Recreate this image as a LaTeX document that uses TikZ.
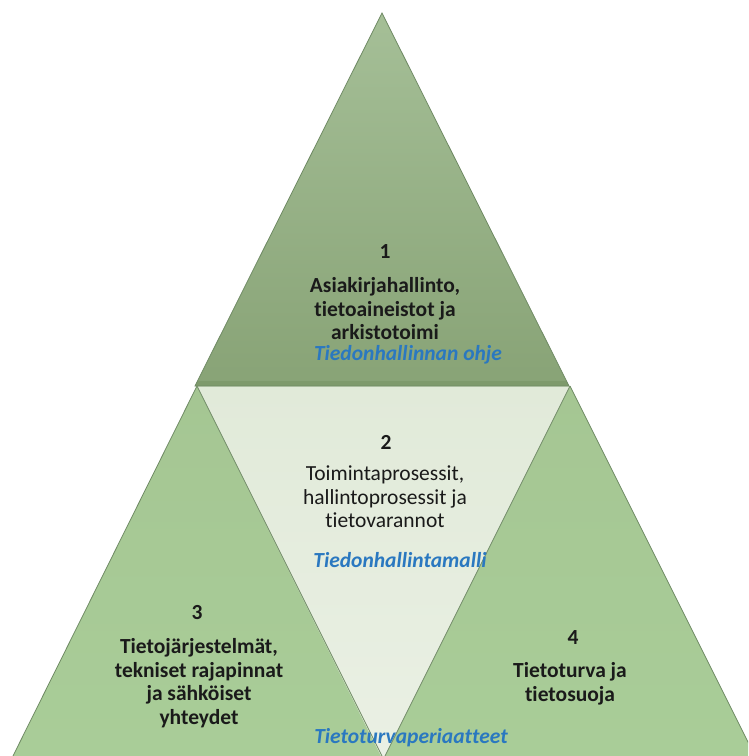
\documentclass[tikz,border=0pt]{standalone}
\usepackage{fontspec}
\setmainfont[Ligatures={NoCommon}]{Carlito}
\definecolor{topA}{HTML}{A5BF97}
\definecolor{topB}{HTML}{88A376}
\definecolor{midA}{HTML}{E1EAD9}
\definecolor{midB}{HTML}{EAF0E4}
\definecolor{sideA}{HTML}{A5C693}
\definecolor{sideB}{HTML}{A9CD98}
\definecolor{edge}{HTML}{6F8A64}
\definecolor{band}{HTML}{7E9A6C}
\definecolor{lbl}{HTML}{2A78C0}
\definecolor{ink}{HTML}{1A1A1A}
\begin{document}
\begin{tikzpicture}[x=1pt,y=-1pt,
  txt/.style={font=\fontsize{21.5}{23.5}\selectfont, text=ink, align=center, inner sep=0pt},
  btxt/.style={txt, font=\fontsize{21.5}{23.5}\selectfont\bfseries},
  blue/.style={txt, font=\fontsize{21.5}{23.5}\selectfont\bfseries\itshape, text=lbl},
  edgeline/.style={draw=edge, line width=0.8pt, line join=miter}]
\useasboundingbox (0,0) rectangle (748,756);
\begin{scope}
\clip (0,0) rectangle (748,756);
% left and right triangles
\coordinate (La) at (197,386);
\coordinate (Lb) at (8,766);
\coordinate (Lc) at (387,766);
\coordinate (Ra) at (570,386);
\coordinate (Rb) at (380,766);
\coordinate (Rc) at (760,766);
\shade[top color=sideA, bottom color=sideB] (La) -- (Lb) -- (Lc) -- cycle;
\shade[top color=sideA, bottom color=sideB] (Ra) -- (Rb) -- (Rc) -- cycle;
% middle inverted triangle
\coordinate (Ma) at (197,386);
\coordinate (Mb) at (570,386);
\coordinate (Mc) at (383,760);
\shade[top color=midA, bottom color=midB] (Ma) -- (Mb) -- (Mc) -- cycle;
\draw[edgeline] (La) -- (Lb);
\draw[edgeline] (La) -- (Lc);
\draw[edgeline] (Ra) -- (Rb);
\draw[edgeline] (Ra) -- (Rc);
% top triangle
\coordinate (Ta) at (382,13);
\coordinate (Tb) at (195,386);
\coordinate (Tc) at (569,386);
\shade[top color=topA, bottom color=topB] (Ta) -- (Tb) -- (Tc) -- cycle;
\begin{scope}
\clip (Ta) -- (Tb) -- (Tc) -- cycle;
\fill[band] (150,381) rectangle (620,387);
\end{scope}
\draw[edgeline] (Ta) -- (Tb) -- (Tc) -- cycle;
\end{scope}
% texts
\node[btxt] (n1) at (385,252) {1};
\node[btxt] (t1) at (385,309) {Asiakirjahallinto,\\tietoaineistot ja\\arkistotoimi};
\node[blue] (b1) at (408,355) {Tiedonhallinnan ohje};
\node[btxt] (n2) at (386,442) {2};
\node[txt] (t2) at (385,497) {Toimintaprosessit,\\hallintoprosessit ja\\tietovarannot};
\node[blue] (b2) at (400,560) {Tiedonhallintamalli};
\node[btxt] (n3) at (197,613) {3};
\node[btxt] (t3) at (199,683) {Tietojärjestelmät,\\tekniset rajapinnat\\ja sähköiset\\yhteydet};
\node[btxt] (n4) at (573,638) {4};
\node[btxt] (t4) at (570,684) {Tietoturva ja\\tietosuoja};
\node[blue] (b3) at (411,738) {Tietoturvaperiaatteet};
\end{tikzpicture}
\end{document}
